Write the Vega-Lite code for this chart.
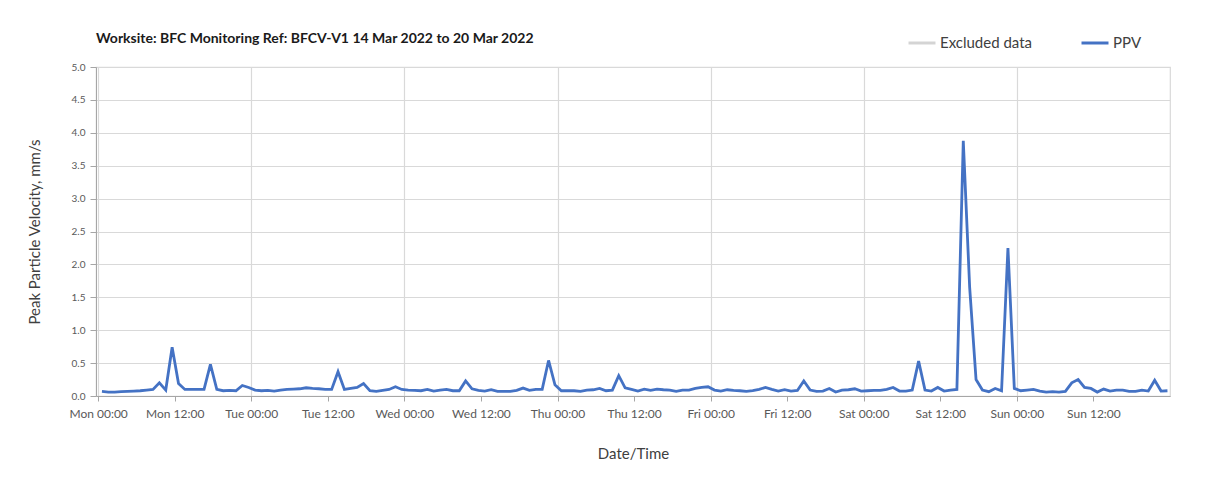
{
"$schema": "https://vega.github.io/schema/vega-lite/v6.json",
"width": 1074, "height": 329,
"autosize": {"type": "none"},
"padding": {"left": 96, "top": 67, "right": 62, "bottom": 93},
"background": "white",
"config": {"font": "Lato", "view": {"stroke": "#d9d9d9", "strokeWidth": 1.2}},
"title": {"text": "Worksite: BFC Monitoring Ref: BFCV-V1   14 Mar 2022 to 20 Mar 2022", "anchor": "start", "frame": "group", "fontSize": 14, "fontWeight": "bold", "color": "#1a1a1a", "offset": -18},
"data": {"values": [
{"t":"2022-03-14T00:36:00","ppv":0.07},{"t":"2022-03-14T01:36:00","ppv":0.06},{"t":"2022-03-14T02:36:00","ppv":0.06},{"t":"2022-03-14T03:36:00","ppv":0.065},{"t":"2022-03-14T04:36:00","ppv":0.07},{"t":"2022-03-14T05:36:00","ppv":0.075},{"t":"2022-03-14T06:36:00","ppv":0.08},{"t":"2022-03-14T07:36:00","ppv":0.09},{"t":"2022-03-14T08:36:00","ppv":0.10},{"t":"2022-03-14T09:36:00","ppv":0.20},{"t":"2022-03-14T10:36:00","ppv":0.09},{"t":"2022-03-14T11:36:00","ppv":0.74},{"t":"2022-03-14T12:36:00","ppv":0.19},{"t":"2022-03-14T13:36:00","ppv":0.10},{"t":"2022-03-14T14:36:00","ppv":0.10},{"t":"2022-03-14T15:36:00","ppv":0.10},{"t":"2022-03-14T16:36:00","ppv":0.10},{"t":"2022-03-14T17:36:00","ppv":0.48},{"t":"2022-03-14T18:36:00","ppv":0.10},{"t":"2022-03-14T19:36:00","ppv":0.08},{"t":"2022-03-14T20:36:00","ppv":0.085},{"t":"2022-03-14T21:36:00","ppv":0.08},{"t":"2022-03-14T22:36:00","ppv":0.16},{"t":"2022-03-14T23:36:00","ppv":0.13},
{"t":"2022-03-15T00:36:00","ppv":0.09},{"t":"2022-03-15T01:36:00","ppv":0.08},{"t":"2022-03-15T02:36:00","ppv":0.085},{"t":"2022-03-15T03:36:00","ppv":0.075},{"t":"2022-03-15T04:36:00","ppv":0.09},{"t":"2022-03-15T05:36:00","ppv":0.10},{"t":"2022-03-15T06:36:00","ppv":0.105},{"t":"2022-03-15T07:36:00","ppv":0.11},{"t":"2022-03-15T08:36:00","ppv":0.125},{"t":"2022-03-15T09:36:00","ppv":0.115},{"t":"2022-03-15T10:36:00","ppv":0.11},{"t":"2022-03-15T11:36:00","ppv":0.10},{"t":"2022-03-15T12:36:00","ppv":0.10},{"t":"2022-03-15T13:36:00","ppv":0.37},{"t":"2022-03-15T14:36:00","ppv":0.10},{"t":"2022-03-15T15:36:00","ppv":0.115},{"t":"2022-03-15T16:36:00","ppv":0.13},{"t":"2022-03-15T17:36:00","ppv":0.19},{"t":"2022-03-15T18:36:00","ppv":0.08},{"t":"2022-03-15T19:36:00","ppv":0.07},{"t":"2022-03-15T20:36:00","ppv":0.085},{"t":"2022-03-15T21:36:00","ppv":0.10},{"t":"2022-03-15T22:36:00","ppv":0.14},{"t":"2022-03-15T23:36:00","ppv":0.10},
{"t":"2022-03-16T00:36:00","ppv":0.09},{"t":"2022-03-16T01:36:00","ppv":0.085},{"t":"2022-03-16T02:36:00","ppv":0.08},{"t":"2022-03-16T03:36:00","ppv":0.10},{"t":"2022-03-16T04:36:00","ppv":0.075},{"t":"2022-03-16T05:36:00","ppv":0.09},{"t":"2022-03-16T06:36:00","ppv":0.10},{"t":"2022-03-16T07:36:00","ppv":0.08},{"t":"2022-03-16T08:36:00","ppv":0.08},{"t":"2022-03-16T09:36:00","ppv":0.23},{"t":"2022-03-16T10:36:00","ppv":0.11},{"t":"2022-03-16T11:36:00","ppv":0.085},{"t":"2022-03-16T12:36:00","ppv":0.075},{"t":"2022-03-16T13:36:00","ppv":0.095},{"t":"2022-03-16T14:36:00","ppv":0.07},{"t":"2022-03-16T15:36:00","ppv":0.07},{"t":"2022-03-16T16:36:00","ppv":0.07},{"t":"2022-03-16T17:36:00","ppv":0.085},{"t":"2022-03-16T18:36:00","ppv":0.12},{"t":"2022-03-16T19:36:00","ppv":0.085},{"t":"2022-03-16T20:36:00","ppv":0.10},{"t":"2022-03-16T21:36:00","ppv":0.10},{"t":"2022-03-16T22:36:00","ppv":0.54},{"t":"2022-03-16T23:36:00","ppv":0.17},
{"t":"2022-03-17T00:36:00","ppv":0.08},{"t":"2022-03-17T01:36:00","ppv":0.08},{"t":"2022-03-17T02:36:00","ppv":0.08},{"t":"2022-03-17T03:36:00","ppv":0.07},{"t":"2022-03-17T04:36:00","ppv":0.09},{"t":"2022-03-17T05:36:00","ppv":0.095},{"t":"2022-03-17T06:36:00","ppv":0.115},{"t":"2022-03-17T07:36:00","ppv":0.08},{"t":"2022-03-17T08:36:00","ppv":0.09},{"t":"2022-03-17T09:36:00","ppv":0.31},{"t":"2022-03-17T10:36:00","ppv":0.125},{"t":"2022-03-17T11:36:00","ppv":0.10},{"t":"2022-03-17T12:36:00","ppv":0.075},{"t":"2022-03-17T13:36:00","ppv":0.105},{"t":"2022-03-17T14:36:00","ppv":0.085},{"t":"2022-03-17T15:36:00","ppv":0.105},{"t":"2022-03-17T16:36:00","ppv":0.095},{"t":"2022-03-17T17:36:00","ppv":0.09},{"t":"2022-03-17T18:36:00","ppv":0.07},{"t":"2022-03-17T19:36:00","ppv":0.09},{"t":"2022-03-17T20:36:00","ppv":0.09},{"t":"2022-03-17T21:36:00","ppv":0.115},{"t":"2022-03-17T22:36:00","ppv":0.13},{"t":"2022-03-17T23:36:00","ppv":0.14},
{"t":"2022-03-18T00:36:00","ppv":0.09},{"t":"2022-03-18T01:36:00","ppv":0.075},{"t":"2022-03-18T02:36:00","ppv":0.095},{"t":"2022-03-18T03:36:00","ppv":0.085},{"t":"2022-03-18T04:36:00","ppv":0.08},{"t":"2022-03-18T05:36:00","ppv":0.07},{"t":"2022-03-18T06:36:00","ppv":0.08},{"t":"2022-03-18T07:36:00","ppv":0.10},{"t":"2022-03-18T08:36:00","ppv":0.13},{"t":"2022-03-18T09:36:00","ppv":0.10},{"t":"2022-03-18T10:36:00","ppv":0.075},{"t":"2022-03-18T11:36:00","ppv":0.095},{"t":"2022-03-18T12:36:00","ppv":0.075},{"t":"2022-03-18T13:36:00","ppv":0.085},{"t":"2022-03-18T14:36:00","ppv":0.23},{"t":"2022-03-18T15:36:00","ppv":0.09},{"t":"2022-03-18T16:36:00","ppv":0.07},{"t":"2022-03-18T17:36:00","ppv":0.075},{"t":"2022-03-18T18:36:00","ppv":0.115},{"t":"2022-03-18T19:36:00","ppv":0.06},{"t":"2022-03-18T20:36:00","ppv":0.09},{"t":"2022-03-18T21:36:00","ppv":0.095},{"t":"2022-03-18T22:36:00","ppv":0.11},{"t":"2022-03-18T23:36:00","ppv":0.075},
{"t":"2022-03-19T00:36:00","ppv":0.08},{"t":"2022-03-19T01:36:00","ppv":0.085},{"t":"2022-03-19T02:36:00","ppv":0.085},{"t":"2022-03-19T03:36:00","ppv":0.10},{"t":"2022-03-19T04:36:00","ppv":0.13},{"t":"2022-03-19T05:36:00","ppv":0.075},{"t":"2022-03-19T06:36:00","ppv":0.075},{"t":"2022-03-19T07:36:00","ppv":0.09},{"t":"2022-03-19T08:36:00","ppv":0.53},{"t":"2022-03-19T09:36:00","ppv":0.09},{"t":"2022-03-19T10:36:00","ppv":0.075},{"t":"2022-03-19T11:36:00","ppv":0.13},{"t":"2022-03-19T12:36:00","ppv":0.075},{"t":"2022-03-19T13:36:00","ppv":0.09},{"t":"2022-03-19T14:36:00","ppv":0.10},{"t":"2022-03-19T15:36:00","ppv":3.88},{"t":"2022-03-19T16:36:00","ppv":1.65},{"t":"2022-03-19T17:36:00","ppv":0.25},{"t":"2022-03-19T18:36:00","ppv":0.09},{"t":"2022-03-19T19:36:00","ppv":0.065},{"t":"2022-03-19T20:36:00","ppv":0.115},{"t":"2022-03-19T21:36:00","ppv":0.08},{"t":"2022-03-19T22:36:00","ppv":2.25},{"t":"2022-03-19T23:36:00","ppv":0.115},
{"t":"2022-03-20T00:36:00","ppv":0.08},{"t":"2022-03-20T01:36:00","ppv":0.09},{"t":"2022-03-20T02:36:00","ppv":0.10},{"t":"2022-03-20T03:36:00","ppv":0.075},{"t":"2022-03-20T04:36:00","ppv":0.06},{"t":"2022-03-20T05:36:00","ppv":0.065},{"t":"2022-03-20T06:36:00","ppv":0.06},{"t":"2022-03-20T07:36:00","ppv":0.07},{"t":"2022-03-20T08:36:00","ppv":0.20},{"t":"2022-03-20T09:36:00","ppv":0.25},{"t":"2022-03-20T10:36:00","ppv":0.13},{"t":"2022-03-20T11:36:00","ppv":0.115},{"t":"2022-03-20T12:36:00","ppv":0.06},{"t":"2022-03-20T13:36:00","ppv":0.105},{"t":"2022-03-20T14:36:00","ppv":0.075},{"t":"2022-03-20T15:36:00","ppv":0.09},{"t":"2022-03-20T16:36:00","ppv":0.09},{"t":"2022-03-20T17:36:00","ppv":0.07},{"t":"2022-03-20T18:36:00","ppv":0.07},{"t":"2022-03-20T19:36:00","ppv":0.09},{"t":"2022-03-20T20:36:00","ppv":0.075},{"t":"2022-03-20T21:36:00","ppv":0.24},{"t":"2022-03-20T22:36:00","ppv":0.075},{"t":"2022-03-20T23:36:00","ppv":0.08}
]},
"mark": {"type": "line", "strokeWidth": 2.8},
"encoding": {
"x": {"field": "t", "type": "temporal",
 "scale": {"domain": [{"year": 2022, "month": 3, "date": 13, "hours": 23, "minutes": 40}, {"year": 2022, "month": 3, "date": 21}]},
 "axis": {"title": "Date/Time", "format": "%a %H:%M",
  "values": [{"year": 2022, "month": 3, "date": 14}, {"year": 2022, "month": 3, "date": 14, "hours": 12}, {"year": 2022, "month": 3, "date": 15}, {"year": 2022, "month": 3, "date": 15, "hours": 12}, {"year": 2022, "month": 3, "date": 16}, {"year": 2022, "month": 3, "date": 16, "hours": 12}, {"year": 2022, "month": 3, "date": 17}, {"year": 2022, "month": 3, "date": 17, "hours": 12}, {"year": 2022, "month": 3, "date": 18}, {"year": 2022, "month": 3, "date": 18, "hours": 12}, {"year": 2022, "month": 3, "date": 19}, {"year": 2022, "month": 3, "date": 19, "hours": 12}, {"year": 2022, "month": 3, "date": 20}, {"year": 2022, "month": 3, "date": 20, "hours": 12}],
  "labelOverlap": false,
  "labelFontSize": 12, "labelColor": "#595959", "labelPadding": 7,
  "tickSize": 5, "tickColor": "#a6a6a6", "domainColor": "#a6a6a6",
  "gridColor": "#d9d9d9", "gridWidth": 1.2,
  "gridOpacity": {"condition": {"test": "hours(datum.value) == 0", "value": 1}, "value": 0},
  "titleFontSize": 15, "titleFontWeight": "normal", "titleColor": "#404040", "titlePadding": 27}},
"y": {"field": "ppv", "type": "quantitative",
 "scale": {"domain": [0, 5]},
 "axis": {"title": "Peak Particle Velocity, mm/s", "values": [0, 0.5, 1, 1.5, 2, 2.5, 3, 3.5, 4, 4.5, 5], "format": ".1f",
  "labelFontSize": 10, "labelColor": "#595959", "labelPadding": 5,
  "tickSize": 6, "tickColor": "#a6a6a6", "domainColor": "#a6a6a6",
  "gridColor": "#d9d9d9", "gridWidth": 1.2,
  "titleFontSize": 15, "titleFontWeight": "normal", "titleColor": "#404040", "titlePadding": 29}},
"color": {"datum": "PPV",
 "scale": {"domain": ["Excluded data", "PPV"], "range": ["#d4d4d4", "#4472c4"]},
 "legend": {"orient": "none", "legendX": 811, "legendY": -39, "direction": "horizontal", "title": null,
  "labelFontSize": 15, "labelColor": "#404040", "symbolSize": 729, "symbolStrokeWidth": 3, "labelOffset": 3, "columnPadding": 42}}
}
}
